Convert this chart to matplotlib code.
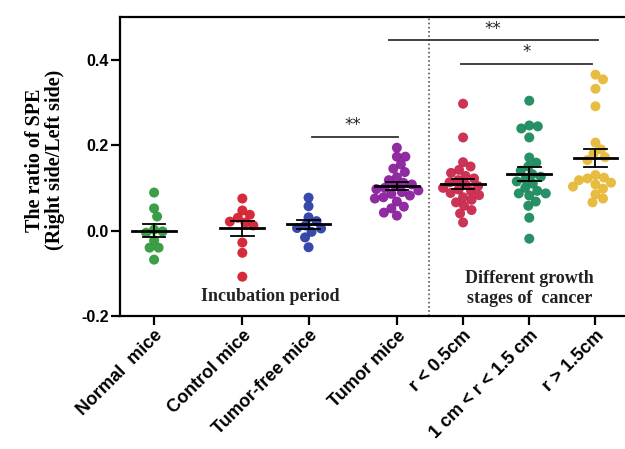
import numpy as np
import matplotlib
matplotlib.use("Agg")
import matplotlib.pyplot as plt

# ---------------- data ----------------
categories = ["Normal  mice", "Control mice", "Tumor-free mice", "Tumor mice",
              "r < 0.5cm", "1 cm < r < 1.5 cm", "r > 1.5cm"]

normal = [0.089, 0.052, 0.033, 0.002, -0.005, -0.002, -0.023, -0.040, -0.040, -0.068]
control = [0.075, 0.047, 0.037, 0.030, 0.021, 0.019, 0.012, -0.028, -0.052, -0.108]
tumor_free = [0.077, 0.057, 0.031, 0.022, 0.012, 0.006, 0.005, -0.003, -0.016, -0.039]
tumor = [0.194, 0.173, 0.173, 0.155, 0.145, 0.137, 0.125, 0.118, 0.112, 0.108, 0.104, 0.100,
         0.097, 0.094, 0.090, 0.086, 0.082, 0.078, 0.075, 0.068, 0.056, 0.052, 0.042, 0.035]
r_small = [0.297, 0.218, 0.160, 0.150, 0.142, 0.135, 0.128, 0.122, 0.118, 0.113, 0.108, 0.104,
           0.100, 0.096, 0.092, 0.088, 0.083, 0.078, 0.072, 0.066, 0.058, 0.048, 0.040, 0.019]
r_mid = [0.304, 0.246, 0.244, 0.239, 0.218, 0.171, 0.159, 0.150, 0.140, 0.132, 0.126, 0.120,
         0.115, 0.110, 0.100, 0.093, 0.087, 0.087, 0.082, 0.068, 0.058, 0.030, -0.019]
r_large = [0.365, 0.354, 0.332, 0.291, 0.206, 0.190, 0.180, 0.172, 0.165, 0.130, 0.124, 0.122,
           0.118, 0.112, 0.108, 0.103, 0.098, 0.085, 0.075, 0.066]

groups = [normal, control, tumor_free, tumor, r_small, r_mid, r_large]
yticks = [-0.2, 0.0, 0.2, 0.4]

# ---------------- layout / style ----------------
xpos = [0, 1.333, 2.333, 3.667, 4.667, 5.667, 6.667]
colors = ["#319a3d", "#d41f2f", "#2c3fa6", "#8a1f9c", "#c9294c", "#1b8a5c", "#e6b937"]
XLIM = (-0.515, 7.16)
YLIM = (-0.2, 0.5)

fig = plt.figure(figsize=(6.25, 4.49), dpi=100)
ax = fig.add_axes([120 / 625, 1 - 316 / 449, 1.005 - 120 / 625, (316 - 17) / 449])
ax.set_xlim(*XLIM)
ax.set_ylim(*YLIM)

# pixel scales for beeswarm
ax_w_px = (1.005 - 120 / 625) * 625
ax_h_px = 299
px_per_x = ax_w_px / (XLIM[1] - XLIM[0])
px_per_y = ax_h_px / (YLIM[1] - YLIM[0])
dot_d = 10.0
min_dist = dot_d * 0.85


def swarm(values):
    vals = np.asarray(values, dtype=float)
    order = np.argsort(-vals)
    placed = []
    offs = np.zeros(len(vals))
    cands = [0.0]
    for k in range(1, 80):
        cands += [k * 0.5, -k * 0.5]
    for i in order:
        ypx = vals[i] * px_per_y
        for c in cands:
            ok = True
            for (px, py) in placed:
                if (px - c) ** 2 + (py - ypx) ** 2 < min_dist ** 2:
                    ok = False
                    break
            if ok:
                offs[i] = c
                placed.append((c, ypx))
                break
    return offs / px_per_x


for xp, vals, col in zip(xpos, groups, colors):
    offs = swarm(vals)
    ax.scatter(xp + offs, vals, s=(dot_d * 0.72) ** 2, color=col, edgecolors="none",
               zorder=3, alpha=0.95)
    m = np.mean(vals)
    sem = np.std(vals, ddof=1) / np.sqrt(len(vals))
    ax.plot([xp - 0.33, xp + 0.33], [m, m], color="black", lw=2.0, zorder=4)
    ax.plot([xp, xp], [m - sem, m + sem], color="black", lw=1.3, zorder=4)
    for yy in (m - sem, m + sem):
        ax.plot([xp - 0.17, xp + 0.17], [yy, yy], color="black", lw=1.3, zorder=4)

# dotted separator
ax.axvline(4.15, color="#555555", lw=1.2, ls=(0, (1, 1.5)), zorder=1)

# significance bars
ax.plot([3.545, 6.70], [0.447, 0.447], color="#333333", lw=1.3)
ax.text(5.12, 0.452, "**", ha="center", va="bottom", fontsize=12, color="#222222")
ax.plot([4.636, 6.62], [0.391, 0.391], color="#333333", lw=1.3)
ax.text(5.63, 0.396, "*", ha="center", va="bottom", fontsize=12, color="#222222")
ax.plot([2.39, 3.68], [0.220, 0.220], color="#333333", lw=1.3)
ax.text(3.0, 0.225, "**", ha="center", va="bottom", fontsize=12, color="#222222")

# annotations
ax.text(1.76, -0.154, "Incubation period", ha="center", va="center",
        fontsize=13, fontweight="bold", family="Liberation Serif", color="#222222")
ax.text(5.67, -0.136, "Different growth\nstages of  cancer", ha="center", va="center",
        fontsize=13, fontweight="bold", family="Liberation Serif", color="#222222",
        linespacing=1.2)

# axes styling
for s in ax.spines.values():
    s.set_linewidth(1.6)
ax.set_yticks(yticks)
ax.set_yticklabels([f"{v:.1f}" for v in yticks], fontsize=11.5, fontweight="bold",
                   family="Liberation Sans")
ax.set_xticks(xpos)
ax.set_xticklabels(categories, rotation=45, ha="right", rotation_mode="anchor",
                   fontsize=13, fontweight="bold", family="Liberation Sans")
ax.tick_params(axis="both", direction="out", length=6.5, width=1.6, pad=1.5)

fig.text(45 / 625, 1 - 160 / 449, "The ratio of SPE\n(Right side/Left side)",
         rotation=90, ha="center", va="center", fontsize=14.5, fontweight="bold",
         family="Liberation Serif", linespacing=0.95)

fig.savefig("out.png", dpi=100)
